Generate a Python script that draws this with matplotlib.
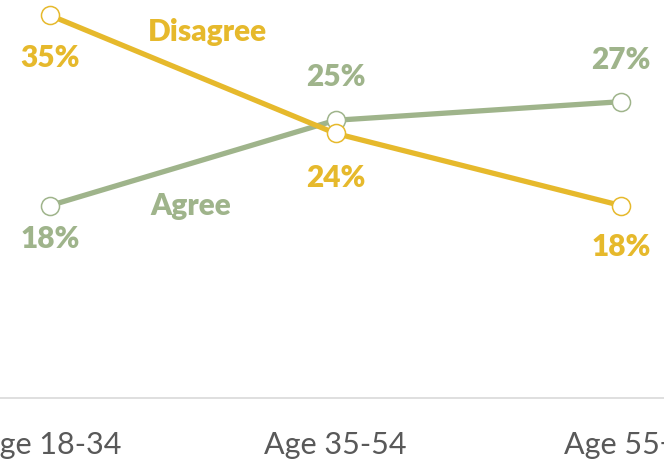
import matplotlib
matplotlib.use("Agg")
import matplotlib.pyplot as plt

categories = ["Age 18-34", "Age 35-54", "Age 55+"]
disagree = [35.0, 24.2, 17.6]
agree = [17.6, 25.4, 27.1]

GOLD = "#E6B92C"
GREEN = "#9FB48B"

plt.rcParams["font.family"] = ["Lato", "DejaVu Sans"]

fig = plt.figure(figsize=(6.64, 4.63), dpi=100)
ax = fig.add_axes([0, 0.1404, 1, 0.8596])

x = list(range(len(categories)))
ax.plot(x, agree, color=GREEN, lw=3.8, marker="o", ms=13, mfc="white",
        mec=GREEN, mew=1.1, zorder=3, clip_on=False)
ax.plot(x, disagree, color=GOLD, lw=3.8, marker="o", ms=13, mfc="white",
        mec=GOLD, mew=1.1, zorder=4, clip_on=False)

# data labels (offsets in points)
dis_off = [-31, -32, -30]
agr_off = [-24, 31, 30]
for i in x:
    ax.annotate(f"{disagree[i]:.0f}%", (i, disagree[i]), xytext=(0, dis_off[i]),
                textcoords="offset points", ha="center", va="center",
                color=GOLD, fontsize=21.5, fontweight="heavy")
    ax.annotate(f"{agree[i]:.0f}%", (i, agree[i]), xytext=(0, agr_off[i]),
                textcoords="offset points", ha="center", va="center",
                color=GREEN, fontsize=21.5, fontweight="heavy")

# series names
ax.text(0.55, 33.45, "Disagree", color=GOLD, fontsize=21.5, fontweight="heavy",
        ha="center", va="center")
ax.text(0.494, 17.6, "Agree", color=GREEN, fontsize=21.5, fontweight="heavy",
        ha="center", va="center")

ax.set_xlim(-50 / 285.5, 614 / 285.5)
ax.set_ylim(0, 36.4)
ax.set_xticks(x)
ax.set_xticklabels(categories, fontsize=22, color="#595959")
ax.tick_params(axis="x", length=0, pad=24)
ax.set_yticks([])
for s in ["top", "left", "right"]:
    ax.spines[s].set_visible(False)
ax.spines["bottom"].set_color("#D9D9D9")
ax.spines["bottom"].set_linewidth(1.2)

fig.savefig("out.png", dpi=100)
